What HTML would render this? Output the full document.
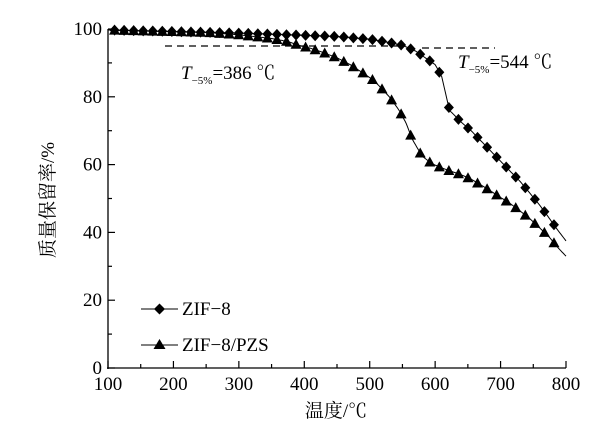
<!DOCTYPE html><html><head><meta charset="utf-8"><style>body{margin:0;background:#fff}svg{display:block}svg text{font-family:"Times New Roman","Liberation Serif","Noto Serif CJK SC",serif}</style></head><body>
<svg id="s" width="611" height="441" viewBox="0 0 611 441" xmlns="http://www.w3.org/2000/svg">
<g stroke="#000" stroke-width="1.3" fill="none">
<line x1="108" y1="29" x2="108" y2="369"/>
<line x1="107" y1="368" x2="566" y2="368"/>
</g>
<g id="ticks" stroke="#000" stroke-width="1.2"></g>
<g font-size="19" text-anchor="end" id="yl"></g>
<g font-size="19" text-anchor="middle" id="xl"></g>
<text x="336" y="417" font-size="19" text-anchor="middle">温度/℃</text>
<text transform="translate(54,200) rotate(-90)" font-size="19" text-anchor="middle">质量保留率/%</text>
<g stroke="#000" stroke-width="1.3" stroke-dasharray="7,5">
<line x1="165" y1="46" x2="400" y2="46"/>
<line x1="422" y1="48" x2="495" y2="48"/>
</g>
<text x="181" y="79" font-size="19"><tspan font-style="italic">T</tspan><tspan font-size="11" dy="5">−5%</tspan><tspan dy="-5">=386 ℃</tspan></text>
<text x="458" y="68" font-size="19"><tspan font-style="italic">T</tspan><tspan font-size="11" dy="5">−5%</tspan><tspan dy="-5">=544 ℃</tspan></text>
<g id="series"></g>
<g stroke="#000" stroke-width="1"><line x1="141" y1="309" x2="178" y2="309"/><line x1="141" y1="345" x2="178" y2="345"/></g>
<path d="M159.5 303.5 L165 309 L159.5 314.5 L154 309Z"/>
<path d="M159.5 339 L165.5 349 L153.5 349Z"/>
<text x="182" y="315" font-size="19">ZIF−8</text>
<text x="182" y="351" font-size="19">ZIF−8/PZS</text>
</svg>
<script>
const X=t=>108+(t-100)*458/700, Y=v=>368-v*3.39;
const ns="http://www.w3.org/2000/svg";
function el(p,n,a){const e=document.createElementNS(ns,n);for(const k in a)e.setAttribute(k,a[k]);p.appendChild(e);return e;}
const tk=document.getElementById('ticks');
for(let t=100;t<=800;t+=50){el(tk,'line',{x1:X(t),x2:X(t),y1:368,y2:t%100?364:361});}
for(let v=0;v<=100;v+=10){el(tk,'line',{x1:108,x2:v%20?112:115,y1:Y(v),y2:Y(v)});}
const yl=document.getElementById('yl');for(let v=0;v<=100;v+=20){el(yl,'text',{x:102,y:Y(v)+6}).textContent=v;}
const xl=document.getElementById('xl');for(let t=100;t<=800;t+=100){el(xl,'text',{x:X(t),y:390}).textContent=t;}
const A=[[100,99.7],[300,98.8],[450,97.8],[500,97],[530,96],[550,95.2],[570,93.5],[585,91.5],[600,89.5],[610,86],[622,76],[640,72.5],[655,70],[670,67],[685,64],[700,61],[715,58],[730,55],[745,51.5],[760,48],[775,44],[790,40],[800,37.5]];
const B=[[100,99.7],[250,99],[300,98.3],[350,97.2],[375,96.3],[395,95],[410,94.3],[430,93],[450,91.5],[470,89.5],[490,87],[505,85],[518,82.5],[530,80],[545,76],[555,72.5],[565,67.5],[580,62.5],[595,60.3],[610,59],[625,58],[640,57],[655,55.7],[670,54],[685,52.2],[700,50.3],[715,48.5],[730,46.3],[745,44],[760,41.3],[775,38.5],[790,35],[800,33]];
function f(D,t){for(let i=1;i<D.length;i++)if(t<=D[i][0]){const a=D[i-1],b=D[i];return a[1]+(b[1]-a[1])*(t-a[0])/(b[0]-a[0]);}return D[D.length-1][1];}
const g=document.getElementById('series');
[[A,'d'],[B,'t']].forEach(([D,m])=>{
 let d='';for(let t=100;t<=800;t+=2)d+=(t==100?'M':'L')+X(t).toFixed(1)+' '+Y(f(D,t)).toFixed(1);
 el(g,'path',{d,fill:'none',stroke:'#000','stroke-width':1});
 for(let t=110;t<=795;t+=14.6){
  const x=X(t),y=Y(f(D,t));
  if(m=='d')el(g,'path',{d:`M${x} ${y-5.5}L${x+5} ${y}L${x} ${y+5.5}L${x-5} ${y}Z`});
  else el(g,'path',{d:`M${x} ${y-5.5}L${x+5.5} ${y+4.5}L${x-5.5} ${y+4.5}Z`});
 }
});
</script>
</body></html>
